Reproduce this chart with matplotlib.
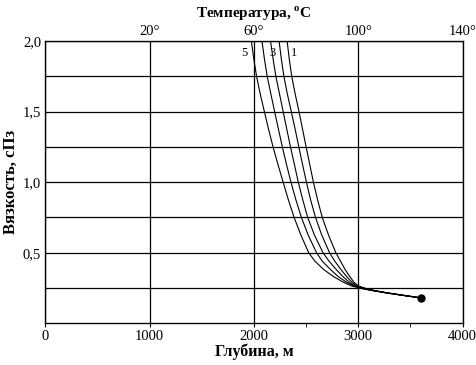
import numpy as np
import matplotlib
matplotlib.use("Agg")
import matplotlib.pyplot as plt

plt.rcParams['font.family'] = ['Liberation Serif', 'DejaVu Serif']
plt.rcParams['mathtext.fontset'] = 'custom'
plt.rcParams['mathtext.rm'] = 'Liberation Serif'
plt.rcParams['mathtext.bf'] = 'Liberation Serif:bold'

# вязкость (ось y) для точек кривых
visc = [2.0, 1.875, 1.75, 1.625, 1.5, 1.375, 1.25, 1.125, 1.0, 0.875, 0.75, 0.625,
        0.5, 0.44, 0.38, 0.33, 0.29, 0.265, 0.245, 0.23, 0.215, 0.2, 0.19, 0.18]
# глубина (ось x) для кривых 1..5
depth_1 = [2318, 2338, 2362, 2395, 2432, 2466, 2500, 2535, 2570, 2610, 2655, 2715,
           2785, 2830, 2875, 2920, 2960, 3000, 3080, 3170, 3285, 3418, 3509, 3600]
depth_2 = [2241, 2262, 2287, 2320, 2358, 2395, 2430, 2466, 2503, 2543, 2590, 2650,
           2725, 2775, 2835, 2890, 2940, 2985, 3070, 3165, 3282, 3416, 3508, 3600]
depth_3 = [2159, 2183, 2210, 2245, 2280, 2315, 2350, 2388, 2425, 2468, 2515, 2580,
           2662, 2720, 2790, 2855, 2915, 2970, 3060, 3160, 3278, 3414, 3507, 3600]
depth_4 = [2077, 2100, 2127, 2162, 2198, 2235, 2272, 2312, 2355, 2402, 2455, 2520,
           2600, 2655, 2735, 2810, 2890, 2955, 3050, 3155, 3275, 3412, 3506, 3600]
depth_5 = [1975, 1998, 2025, 2060, 2100, 2140, 2183, 2230, 2280, 2330, 2385, 2450,
           2525, 2585, 2670, 2765, 2860, 2935, 3040, 3150, 3270, 3410, 3505, 3600]
curves = [depth_1, depth_2, depth_3, depth_4, depth_5]
end_point = (3600, 0.18)

curve_labels = ["5", "3", "1"]
curve_label_x = [1906, 2175, 2388]
curve_label_y = 1.915

x_ticks = [0, 1000, 2000, 3000, 4000]
y_ticks = [0.25, 0.5, 0.75, 1.0, 1.25, 1.5, 1.75, 2.0]
y_ticklabels = ["", "0,5", "", "1,0", "", "1,5", "", "2,0"]
temp_pos = [1000, 2000, 3000, 4000]
temp_labels = ["20°", "60°", "100°", "140°"]

fig = plt.figure(figsize=(4.76, 3.65), dpi=100)
ax = fig.add_axes([0.0952, 0.1142, 0.9718 - 0.0952, 0.8877 - 0.1142])

for d in curves:
    ax.plot(d, visc, color='black', lw=0.8)
ax.plot(*end_point, 'o', color='black', ms=5)

for t, xx in zip(curve_labels, curve_label_x):
    ax.text(xx, curve_label_y, t, fontsize=9, ha='center', va='center')

ax.set_xlim(0, 4000)
ax.set_ylim(0, 2.0)
ax.set_xticks(x_ticks)
ax.set_xticks([2500, 3500], minor=True)
ax.set_yticks(y_ticks)
ax.set_yticklabels(y_ticklabels)
ax.grid(True, color='black', lw=0.9)
ax.tick_params(axis='y', length=0, labelsize=10.5, pad=3)
ax.tick_params(axis='x', which='major', direction='out', length=3, labelsize=10.5, pad=2)
ax.tick_params(axis='x', which='minor', direction='out', length=3)
for s in ax.spines.values():
    s.set_linewidth(0.9)

top = ax.twiny()
top.set_xlim(ax.get_xlim())
top.set_xticks(temp_pos)
top.set_xticklabels(temp_labels)
top.tick_params(axis='x', length=0, labelsize=10.5, pad=2)
top.set_xlabel(r"Температура, $^{\mathbf{o}}$C", fontweight='bold', fontsize=11, labelpad=5)

ax.set_xlabel("Глубина, м", fontweight='bold', fontsize=11.5, labelpad=0)
ax.set_ylabel("Вязкость, сПз", fontweight='bold', fontsize=12, labelpad=3)

fig.savefig("out.png", dpi=100)
